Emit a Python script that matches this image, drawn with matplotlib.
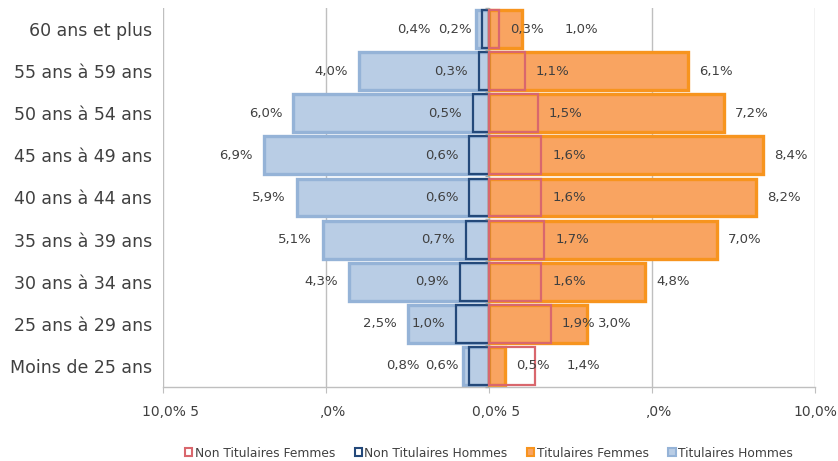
import matplotlib
matplotlib.use("Agg")
import matplotlib.pyplot as plt
from matplotlib.patches import Patch
import matplotlib.transforms as mtransforms
import numpy as np

plt.rcParams['font.family'] = ['DejaVu Sans']

# ---- data (in %) : rows from bottom to top ----
categories = ["Moins de 25 ans", "25 ans à 29 ans", "30 ans à 34 ans", "35 ans à 39 ans",
              "40 ans à 44 ans", "45 ans à 49 ans", "50 ans à 54 ans", "55 ans à 59 ans",
              "60 ans et plus"]
tit_hommes = [0.8, 2.5, 4.3, 5.1, 5.9, 6.9, 6.0, 4.0, 0.4]
nontit_hommes = [0.6, 1.0, 0.9, 0.7, 0.6, 0.6, 0.5, 0.3, 0.2]
tit_femmes = [0.5, 3.0, 4.8, 7.0, 8.2, 8.4, 7.2, 6.1, 1.0]
nontit_femmes = [1.4, 1.9, 1.6, 1.7, 1.6, 1.6, 1.5, 1.1, 0.3]

xticks = [-10, -5, 0, 5, 10]
xticklabels = ["10,0% 5", ",0%", "0,0% 5", ",0%", "10,0%"]

# extra label shifts (points) for manually moved labels
shift_tit_h = [23, 0, 0, 0, 0, 0, 0, 0, 25]
shift_tit_f = [0, 0, 0, 0, 0, 0, 0, 0, 23]
shift_nontit_f = [15, 0, 0, 0, 0, 0, 0, 0, 0]
shift_nontit_h = [0] * 9

def fmt(v):
    return f"{v:.1f}%".replace(".", ",")

# ---- styles ----
c_th_fill, c_th_edge = "#B9CDE5", "#95B3D7"
c_tf_fill, c_tf_edge = "#F9A461", "#F7941E"
c_nh_edge = "#24497A"
c_nf_edge = "#D9676D"
txt_col = "#404040"
grid_col = "#BFBFBF"

fig = plt.figure(figsize=(8.38, 4.61), dpi=100)
ax = fig.add_axes([163/838, (461-387)/461, (815-163)/838, (387-8)/461])

y = np.arange(len(categories))
h = 0.9

ax.barh(y, [-v for v in tit_hommes], height=h, color=c_th_fill, edgecolor=c_th_edge, linewidth=2.4, zorder=2)
ax.barh(y, tit_femmes, height=h, color=c_tf_fill, edgecolor=c_tf_edge, linewidth=2.4, zorder=2)
ax.barh(y, [-v for v in nontit_hommes], height=h, facecolor="none", edgecolor=c_nh_edge, linewidth=1.6, zorder=3)
ax.barh(y, nontit_femmes, height=h, facecolor="none", edgecolor=c_nf_edge, linewidth=1.6, zorder=3)

ax.set_xlim(-10, 10)
ax.set_ylim(-0.5, len(categories) - 0.5)

# grid
for xv in xticks:
    ax.axvline(xv, color=grid_col, linewidth=1, zorder=1)

# small ticks on the central axis at category boundaries
bounds = np.arange(len(categories) + 1) - 0.5
ax.plot(np.zeros(len(bounds)), bounds, linestyle="none", marker=0, markersize=3,
        markeredgecolor="#A6A6A6", markeredgewidth=1, zorder=4, clip_on=False)

# axes styling
for s in ["top", "right", "left"]:
    ax.spines[s].set_visible(False)
ax.spines["bottom"].set_color(grid_col)
ax.spines["bottom"].set_linewidth(1)
ax.set_xticks(xticks)
ax.set_xticklabels(xticklabels, fontsize=10, color=txt_col)
ax.tick_params(axis="x", length=4, color=grid_col, pad=9)
ax.set_yticks(y)
ax.set_yticklabels(categories, fontsize=12.5, color=txt_col)
ax.tick_params(axis="y", length=0, pad=8)

# shift first x tick labels slightly right (as in reference)
for lab in ax.get_xticklabels()[:-1]:
    lab.set_transform(lab.get_transform() + mtransforms.ScaledTranslation(7/100, 0, fig.dpi_scale_trans))

# data labels
off = 8
for i in range(len(categories)):
    ax.annotate(fmt(tit_hommes[i]), (-tit_hommes[i], y[i]), xytext=(-off - shift_tit_h[i], 0),
                textcoords="offset points", ha="right", va="center", fontsize=9.5, color=txt_col, zorder=5)
    ax.annotate(fmt(nontit_hommes[i]), (-nontit_hommes[i], y[i]), xytext=(-off - shift_nontit_h[i], 0),
                textcoords="offset points", ha="right", va="center", fontsize=9.5, color=txt_col, zorder=5)
    ax.annotate(fmt(tit_femmes[i]), (tit_femmes[i], y[i]), xytext=(off + shift_tit_f[i], 0),
                textcoords="offset points", ha="left", va="center", fontsize=9.5, color=txt_col, zorder=5)
    ax.annotate(fmt(nontit_femmes[i]), (nontit_femmes[i], y[i]), xytext=(off + shift_nontit_f[i], 0),
                textcoords="offset points", ha="left", va="center", fontsize=9.5, color=txt_col, zorder=5)

# legend
handles = [
    Patch(facecolor="white", edgecolor=c_nf_edge, linewidth=1.5, label="Non Titulaires Femmes"),
    Patch(facecolor="white", edgecolor=c_nh_edge, linewidth=1.5, label="Non Titulaires Hommes"),
    Patch(facecolor=c_tf_fill, edgecolor=c_tf_edge, linewidth=1.5, label="Titulaires Femmes"),
    Patch(facecolor=c_th_fill, edgecolor=c_th_edge, linewidth=1.5, label="Titulaires Hommes"),
]
leg = fig.legend(handles=handles, loc="center", bbox_to_anchor=(489/838, 8/461), ncol=4,
                 frameon=False, fontsize=8.8, handlelength=0.6, handleheight=0.6,
                 handletextpad=0.2, columnspacing=1.6, labelcolor=txt_col)

fig.savefig("out.png", dpi=100)
